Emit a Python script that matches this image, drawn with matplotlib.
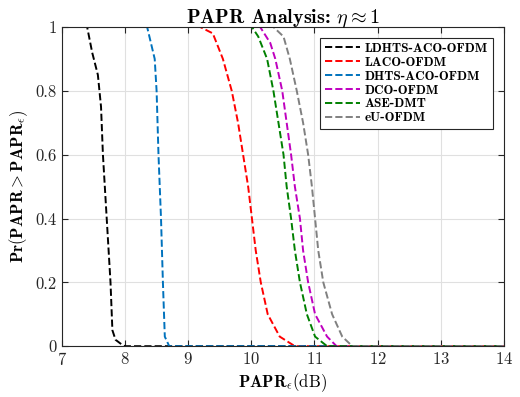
import matplotlib
matplotlib.use("Agg")
import matplotlib.pyplot as plt
import numpy as np

plt.rcParams['font.family'] = 'serif'
plt.rcParams['font.serif'] = ['cmr10', 'DejaVu Serif']
plt.rcParams['mathtext.fontset'] = 'cm'
plt.rcParams['axes.unicode_minus'] = False
plt.rcParams['axes.formatter.use_mathtext'] = True

# CCDF curves
x_ldhts = [7.0, 7.40, 7.48, 7.57, 7.62, 7.65, 7.68, 7.71, 7.74, 7.77, 7.80, 7.85, 7.95, 8.0, 14.0]
y_ldhts = [1.0, 1.0, 0.92, 0.85, 0.75, 0.60, 0.50, 0.40, 0.30, 0.20, 0.05, 0.02, 0.005, 0.0, 0.0]

x_laco = [7.0, 9.19, 9.39, 9.55, 9.69, 9.79, 9.87, 9.95, 10.01, 10.07, 10.15, 10.26, 10.45, 10.69, 14.0]
y_laco = [1.0, 1.0, 0.98, 0.90, 0.80, 0.70, 0.60, 0.50, 0.40, 0.30, 0.20, 0.10, 0.03, 0.0, 0.0]

x_dhts = [7.0, 8.35, 8.47, 8.50, 8.53, 8.57, 8.60, 8.63, 8.70, 14.0]
y_dhts = [1.0, 1.0, 0.90, 0.80, 0.60, 0.40, 0.20, 0.03, 0.0, 0.0]

x_dco = [7.0, 10.14, 10.30, 10.38, 10.49, 10.56, 10.63, 10.69, 10.77, 10.82, 10.90, 11.01, 11.20, 11.35, 14.0]
y_dco = [1.0, 1.0, 0.95, 0.90, 0.80, 0.70, 0.60, 0.50, 0.40, 0.30, 0.20, 0.10, 0.03, 0.0, 0.0]

x_ase = [7.0, 10.01, 10.11, 10.25, 10.35, 10.43, 10.51, 10.56, 10.63, 10.69, 10.77, 10.88, 11.01, 11.20, 14.0]
y_ase = [1.0, 1.0, 0.97, 0.90, 0.80, 0.70, 0.60, 0.50, 0.40, 0.30, 0.20, 0.10, 0.03, 0.0, 0.0]

x_eu = [7.0, 10.35, 10.51, 10.61, 10.72, 10.82, 10.90, 10.96, 11.01, 11.06, 11.14, 11.28, 11.44, 11.60, 14.0]
y_eu = [1.0, 1.0, 0.97, 0.90, 0.80, 0.70, 0.60, 0.50, 0.40, 0.30, 0.20, 0.10, 0.03, 0.0, 0.0]

labels = ['LDHTS-ACO-OFDM', 'LACO-OFDM', 'DHTS-ACO-OFDM', 'DCO-OFDM', 'ASE-DMT', 'eU-OFDM']
colors = ['k', 'r', (0, 0.447, 0.741), 'm', (0, 0.5, 0), (0.5, 0.5, 0.5)]
curves = [(x_ldhts, y_ldhts), (x_laco, y_laco), (x_dhts, y_dhts),
          (x_dco, y_dco), (x_ase, y_ase), (x_eu, y_eu)]

fig = plt.figure(figsize=(5.2, 3.97), dpi=100)
ax = fig.add_axes([0.119, 0.128, 0.85, 0.804])

for (xs, ys), c, lab in zip(curves, colors, labels):
    ax.plot(xs, ys, '--', color=c, lw=1.4, label=lab)

ax.set_xlim(7, 14)
ax.set_ylim(0, 1)
ax.set_xticks(np.arange(7, 15, 1))
ax.set_yticks([0, 0.2, 0.4, 0.6, 0.8, 1])
ax.set_yticklabels(['0', '0.2', '0.4', '0.6', '0.8', '1'])
ax.grid(True, color=(0.88, 0.88, 0.88), lw=0.8)
ax.set_axisbelow(True)
ax.tick_params(direction='in', top=True, right=True, labelsize=12, length=4, colors='0.15')
for s in ax.spines.values():
    s.set_linewidth(0.8)
    s.set_color('0.15')

ax.set_title('PAPR Analysis: ' + r'$\eta \approx 1$', fontsize=14.5, pad=3, fontfamily='cmb10')
ax.set_xlabel(r'$\mathbf{PAPR}_\epsilon\mathrm{(dB)}$', fontsize=12, labelpad=2)
ax.set_ylabel(r'$\mathbf{Pr(PAPR>PAPR}_\epsilon\mathbf{)}$', fontsize=12, labelpad=4)

leg = ax.legend(loc='upper right', prop={'family': 'cmb10', 'size': 9.5},
                fancybox=False, edgecolor='0.15', framealpha=1,
                handlelength=2.6, borderaxespad=0.8, labelspacing=0.12,
                handletextpad=0.4, borderpad=0.4)
leg.get_frame().set_linewidth(0.8)

fig.savefig('out.png', dpi=100)
